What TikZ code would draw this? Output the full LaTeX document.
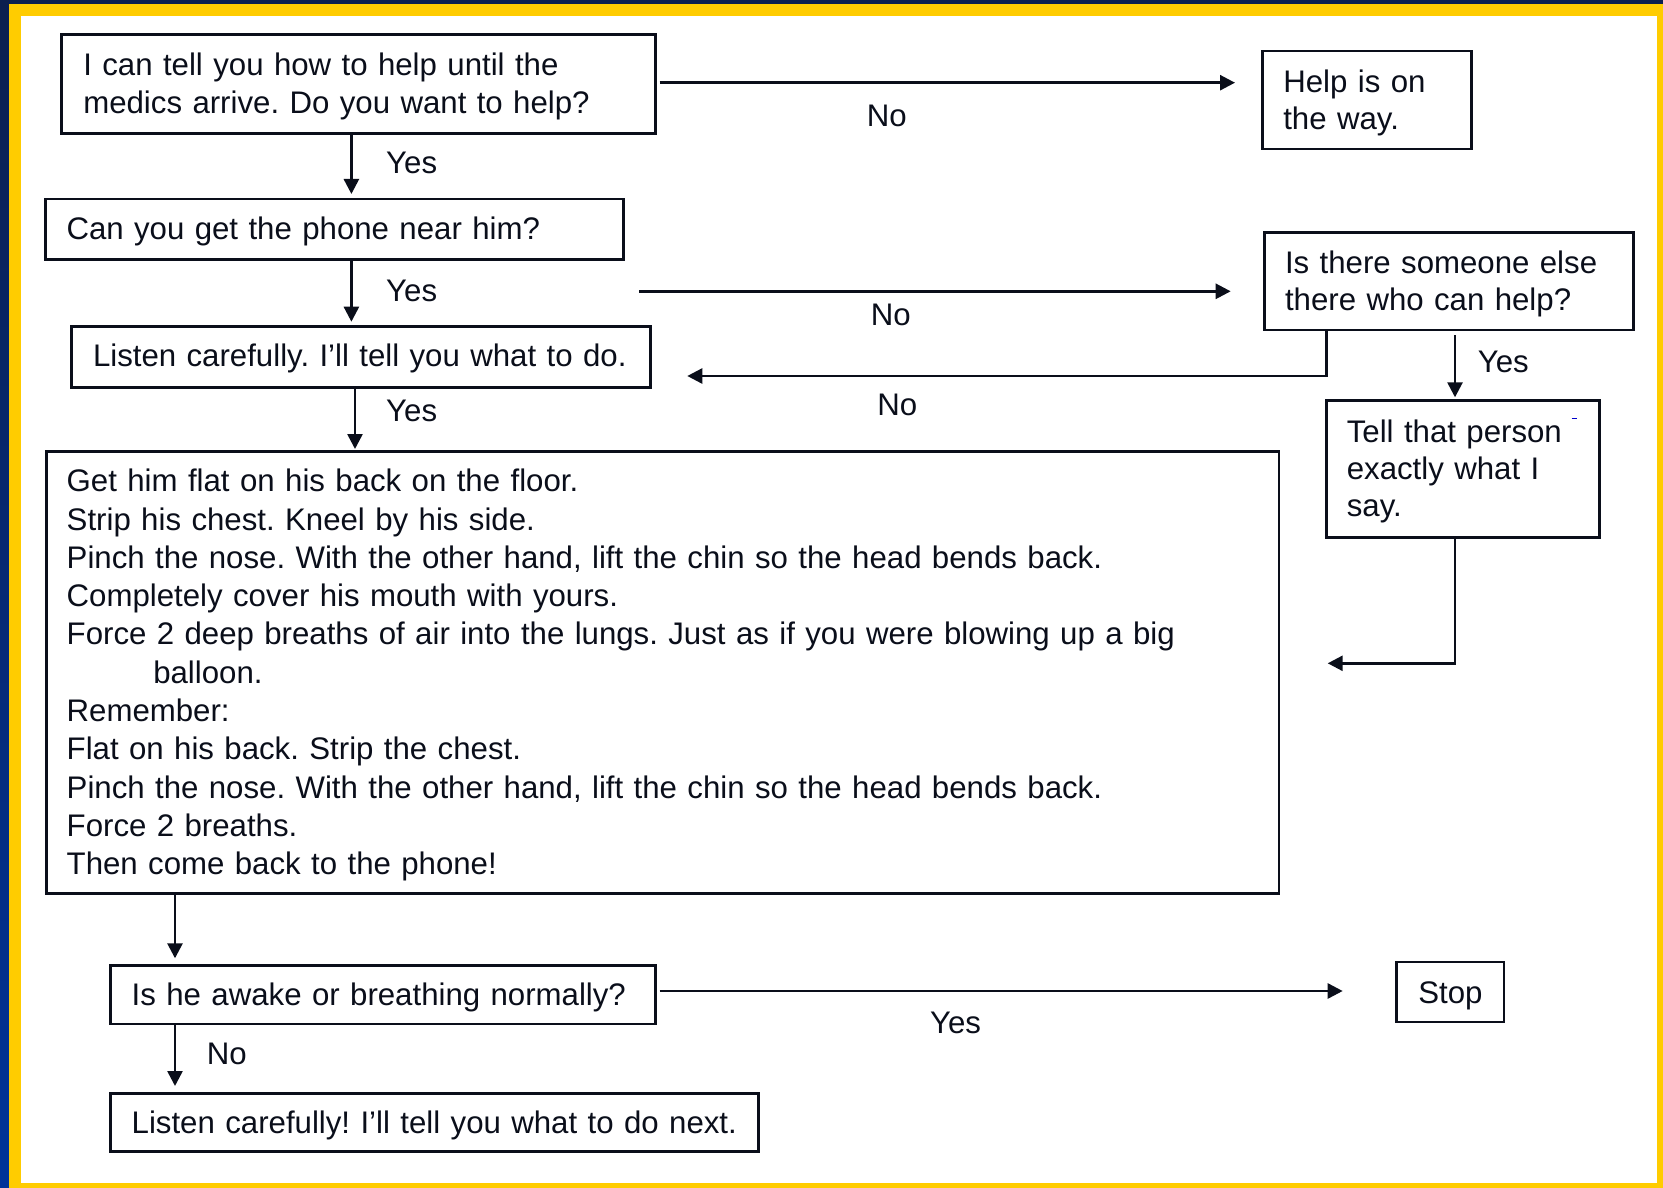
\documentclass[tikz,border=0pt]{standalone}
\usepackage{fontspec}
\setmainfont{Liberation Sans}
\usetikzlibrary{arrows.meta}
\frenchspacing
\definecolor{ink}{HTML}{0A0E1A}
\definecolor{navy}{HTML}{0B1F4F}
\definecolor{royal}{HTML}{003399}
\definecolor{gold}{HTML}{FFCC00}
\newcommand\boxfont{\frenchspacing\fontsize{31.2pt}{37.3pt}\selectfont}
\newcommand\bigboxfont{\frenchspacing\fontsize{31.2pt}{38.3pt}\selectfont}
\begin{document}
\begin{tikzpicture}[x=1pt,y=-1pt,
  box/.style={draw=ink, line width=2.8pt, anchor=north west, inner ysep=0pt, outer sep=0pt, align=left, text=ink, font=\boxfont},
  arr/.style={draw=ink, line width=2.6pt, -{Triangle[length=15pt,width=15pt]}},
  lbl/.style={anchor=base west, inner sep=0pt, text=ink, font=\boxfont}]
\useasboundingbox (0,0) rectangle (1663,1188);
% background frame
\shade[top color=navy, bottom color=royal] (0,0) rectangle (1663,1188);
\fill[gold] (9,4) rectangle (1663,1188);
\fill[white] (21,16) rectangle (1657,1183);

% boxes
\node[box, inner xsep=21.6pt, text width=550.6pt, text height=41.7pt, text depth=57.3pt] (q1) at (61.7,34.3)
  {I can tell you how to help until the\\medics arrive. Do you want to help?};
\node[box, inner xsep=21pt, text width=167.4pt, text height=41.7pt, text depth=56.3pt] (help) at (1262.3,51)
  {Help is on\\the way.};
\node[box, inner xsep=21.2pt, text width=536pt, text height=40.3pt, text depth=20pt] (q2) at (45.3,199)
  {\mbox{Can you get the phone near him?}};
\node[box, inner xsep=20.7pt, text width=327.6pt, text height=41pt, text depth=56.7pt] (q4) at (1264.3,232.3)
  {\mbox{Is there someone else}\\\mbox{there who can help?}};
\node[box, inner xsep=21.2pt, text width=536.3pt, text height=40pt, text depth=21pt] (l1) at (71.8,326.7)
  {\mbox{Listen carefully. I’ll tell you what to do.}};
\node[box, inner xsep=20.5pt, text width=232pt, text height=41.5pt, text depth=95pt] (tell) at (1326.3,400.8)
  {Tell that person\\exactly what I\\say.};
\node[box, font=\bigboxfont, inner xsep=20pt, text width=1192.3pt, text height=40pt, text depth=401.6pt] (steps) at (46.7,451.7)
  {Get him flat on his back on the floor.\\
   Strip his chest. Kneel by his side.\\
   \mbox{Pinch the nose. With the other hand, lift the chin so the head bends back.}\\
   Completely cover his mouth with yours.\\
   \mbox{Force 2 deep breaths of air into the lungs. Just as if you were blowing up a big}\\
   \hspace*{86.6pt}balloon.\\
   Remember:\\
   Flat on his back. Strip the chest.\\
   \mbox{Pinch the nose. With the other hand, lift the chin so the head bends back.}\\
   Force 2 breaths.\\
   Then come back to the phone!};
\node[box, inner xsep=21pt, text width=502.8pt, text height=40pt, text depth=18.3pt] (q3) at (110.7,965.7)
  {\mbox{Is he awake or breathing normally?}};
\node[box, align=center, inner xsep=10pt, text width=87.3pt, text height=41pt, text depth=19pt] (stop) at (1396.7,962)
  {Stop};
\node[box, inner xsep=21pt, text width=605.6pt, text height=40pt, text depth=18.5pt] (l2) at (110.7,1093.3)
  {\mbox{Listen carefully! I’ll tell you what to do next.}};

% free connector ends
\coordinate (a4s) at (639,291.3);
\coordinate (a8e) at (1327.7,663.3);

% connectors
\draw[arr, shorten <=4.2pt, shorten >=27.3pt] (q1.east |- 0,82.7) -- (help.west |- 0,82.7);
\draw[arr, shorten >=5pt] (q1.south -| 351.4,0) -- (q2.north -| 351.4,0);
\draw[arr, shorten >=5pt] (q2.south -| 351.4,0) -- (l1.north -| 351.4,0);
\draw[arr, shorten >=33.6pt] (a4s) -- (q4.west |- a4s);
\draw[arr, shorten >=36.8pt] (q4.south -| 1326.7,0) |- (l1.east |- 0,376);
\draw[arr, shorten <=5pt, shorten >=3.5pt] (q4.south -| 1455,0) -- (tell.north -| 1455,0);
\draw[arr, shorten >=2.7pt] (l1.south -| 355,0) -- (steps.north -| 355,0);
\draw[arr] (tell.south -| 1455,0) |- (a8e);
\draw[arr, shorten >=7.4pt] (steps.south -| 175,0) -- (q3.north -| 175,0);
\draw[arr, shorten <=4.2pt, shorten >=54pt] (q3.east |- 0,991) -- (stop.west |- 0,991);
\draw[arr, shorten >=7.3pt] (q3.south -| 175,0) -- (l2.north -| 175,0);

% labels
\node[lbl, anchor=base] (n1) at (886.7,127) {No};
\node[lbl] (y1) at (386,174) {Yes};
\node[lbl] (y2) at (386,301.7) {Yes};
\node[lbl, anchor=base] (n2) at (890.9,325) {No};
\node[lbl] (y4) at (1477.7,372.7) {Yes};
\node[lbl, anchor=base] (n3) at (897.3,415) {No};
\node[lbl] (y3) at (386,421.8) {Yes};
\node[lbl, anchor=base] (y5) at (955.6,1033.7) {Yes};
\node[lbl] (n4) at (206.7,1064) {No};

% small blue mark
\draw[blue!80!black, line width=1pt] (1571.7,418.3) -- (1576.7,418.3);
\end{tikzpicture}
\end{document}
